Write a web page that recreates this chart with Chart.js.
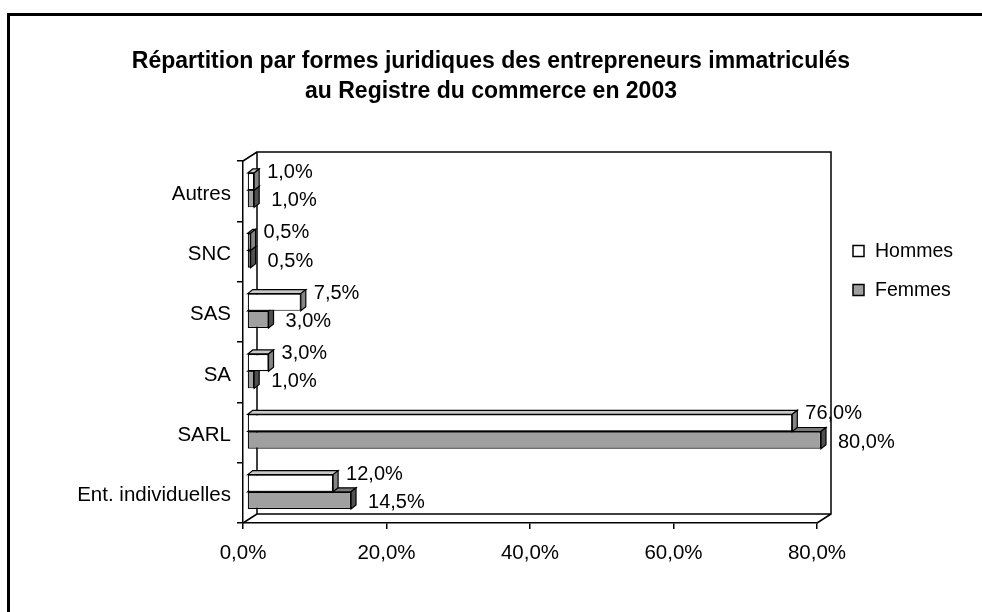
<!DOCTYPE html>
<html lang="fr">
<head>
<meta charset="utf-8">
<title>Répartition par formes juridiques</title>
<script src="https://cdn.jsdelivr.net/npm/chart.js@4.4.1/dist/chart.umd.min.js"></script>
<style>
    html, body { margin: 0; padding: 0; background: #fff; }
    #wrap { width: 982px; height: 612px; }
</style>
</head>
<body>
<div id="wrap"><canvas id="formesChart" width="982" height="612"></canvas></div>
<script>
// Data
const categories = ['Autres', 'SNC', 'SAS', 'SA', 'SARL', 'Ent. individuelles'];
const hommes = [1.0, 0.5, 7.5, 3.0, 76.0, 12.0];
const femmes = [1.0, 0.5, 3.0, 1.0, 80.0, 14.5];
const xTicks = [0, 20, 40, 60, 80];
const titleLines = [
    'Répartition par formes juridiques des entrepreneurs immatriculés',
    'au Registre du commerce en 2003'
];

// Look
const FONT = '"Liberation Sans", Arial, sans-serif';
const WALL_DX = 14, WALL_DY = -9;   // depth of the 3D box
const BAR_DX = 5, BAR_DY = -4;      // depth of each bar
const BAR_SHIFT_X = 4, BAR_SHIFT_Y = -1;

const faces = [
    { front: '#ffffff', top: '#c8c8c8', side: '#858585' },
    { front: '#a0a0a0', top: '#7a7a7a', side: '#505050' }
];

const fmt = (v) => v.toFixed(1).replace('.', ',') + '%';

// 3D helpers
function poly(ctx, pts, fill) {
    ctx.beginPath();
    ctx.moveTo(pts[0][0], pts[0][1]);
    for (let i = 1; i < pts.length; i++) ctx.lineTo(pts[i][0], pts[i][1]);
    ctx.closePath();
    ctx.fillStyle = fill;
    ctx.fill();
    ctx.stroke();
}

const box3d = {
    id: 'box3d',
    beforeDraw(chart) {
        const ctx = chart.ctx;
        ctx.save();
        ctx.fillStyle = '#fff';
        ctx.fillRect(0, 0, chart.width, chart.height);
        // outer frame (runs off the picture right and bottom)
        ctx.strokeStyle = '#000';
        ctx.lineWidth = 3;
        ctx.strokeRect(8.5, 14.5, 1200, 1200);
        // title, centred on the whole picture
        ctx.fillStyle = '#000';
        ctx.font = 'bold 23px ' + FONT;
        ctx.textAlign = 'center';
        ctx.textBaseline = 'middle';
        titleLines.forEach((line, i) => ctx.fillText(line, chart.width / 2, 62 + i * 30));
        ctx.restore();
    },
    beforeDatasetsDraw(chart) {
        const { ctx, chartArea: a } = chart;
        ctx.save();
        ctx.strokeStyle = '#000';
        ctx.lineWidth = 1.5;
        ctx.beginPath();
        // back wall
        ctx.rect(a.left + WALL_DX, a.top + WALL_DY, a.right - a.left, a.bottom - a.top);
        // wall / floor edges
        ctx.moveTo(a.left, a.top); ctx.lineTo(a.left + WALL_DX, a.top + WALL_DY);
        ctx.moveTo(a.left, a.bottom); ctx.lineTo(a.left + WALL_DX, a.bottom + WALL_DY);
        ctx.moveTo(a.right, a.bottom); ctx.lineTo(a.right + WALL_DX, a.bottom + WALL_DY);
        ctx.stroke();
        ctx.restore();
    },
    beforeDatasetDraw(chart) {
        chart.ctx.save();
        chart.ctx.translate(BAR_SHIFT_X, BAR_SHIFT_Y);
    },
    afterDatasetDraw(chart, args) {
        const ctx = chart.ctx;
        const f = faces[args.index];
        ctx.strokeStyle = '#000';
        ctx.lineWidth = 1.2;
        ctx.lineJoin = 'miter';
        args.meta.data.forEach((bar) => {
            const p = bar.getProps(['x', 'y', 'base', 'height'], true);
            const t = p.y - p.height / 2, b = p.y + p.height / 2;
            poly(ctx, [[p.base, t], [p.base + BAR_DX, t + BAR_DY], [p.x + BAR_DX, t + BAR_DY], [p.x, t]], f.top);
            poly(ctx, [[p.x, t], [p.x + BAR_DX, t + BAR_DY], [p.x + BAR_DX, b + BAR_DY], [p.x, b]], f.side);
        });
        ctx.restore();
    },
    afterDatasetsDraw(chart) {
        const ctx = chart.ctx;
        ctx.save();
        ctx.font = '20px ' + FONT;
        ctx.fillStyle = '#000';
        ctx.textBaseline = 'middle';
        ctx.textAlign = 'left';
        chart.data.datasets.forEach((ds, i) => {
            const meta = chart.getDatasetMeta(i);
            meta.data.forEach((bar, j) => {
                const p = bar.getProps(['x', 'y'], true);
                const dx = i === 0 ? 13 : 17;
                const dy = i === 0 ? -9 : 2;
                ctx.fillText(fmt(ds.data[j]), p.x + BAR_SHIFT_X + dx, p.y + BAR_SHIFT_Y + dy);
            });
        });
        ctx.restore();
    },
    afterDraw(chart) {
        // legend
        const ctx = chart.ctx;
        ctx.save();
        ctx.font = '19.5px ' + FONT;
        ctx.textBaseline = 'middle';
        ctx.textAlign = 'left';
        ctx.lineWidth = 1.5;
        chart.data.datasets.forEach((ds, i) => {
            const y = 251 + i * 39;
            ctx.fillStyle = ds.backgroundColor;
            ctx.fillRect(853, y - 5.5, 11, 11);
            ctx.strokeStyle = '#000';
            ctx.strokeRect(853, y - 5.5, 11, 11);
            ctx.fillStyle = '#000';
            ctx.fillText(ds.label, 875, y + 1);
        });
        ctx.restore();
    }
};

const chart = new Chart(document.getElementById('formesChart'), {
    type: 'bar',
    data: {
        labels: categories,
        datasets: [
            { label: 'Hommes', data: hommes, backgroundColor: faces[0].front, borderColor: '#000', borderWidth: 1.2, borderSkipped: false },
            { label: 'Femmes', data: femmes, backgroundColor: faces[1].front, borderColor: '#000', borderWidth: 1.2, borderSkipped: false }
        ]
    },
    options: {
        indexAxis: 'y',
        responsive: false,
        animation: false,
        devicePixelRatio: 1,
        categoryPercentage: 0.57,
        barPercentage: 1,
        layout: { padding: { left: 0, right: 165, top: 161, bottom: 0 } },
        plugins: {
            legend: { display: false },
            tooltip: { enabled: false },
            title: { display: false }
        },
        scales: {
            x: {
                min: 0,
                max: 80,
                afterBuildTicks: (s) => { s.ticks = xTicks.map(v => ({ value: v })); },
                afterFit: (s) => { s.height = 89; },
                grid: { drawOnChartArea: false, drawTicks: true, tickLength: 6, color: '#000', lineWidth: 1.5 },
                border: { display: true, color: '#000', width: 1.5 },
                ticks: {
                    color: '#000',
                    font: { family: FONT, size: 20.5 },
                    padding: 12,
                    maxRotation: 0,
                    callback: (v) => fmt(v)
                }
            },
            y: {
                afterFit: (s) => { s.width = 243; },
                grid: { drawOnChartArea: false, drawTicks: true, tickLength: 6, color: '#000', lineWidth: 1.5 },
                border: { display: true, color: '#000', width: 1.5 },
                ticks: {
                    color: '#000',
                    font: { family: FONT, size: 20.5 },
                    padding: 6,
                    labelOffset: 3
                }
            }
        }
    },
    plugins: [box3d]
});
</script>
</body>
</html>
